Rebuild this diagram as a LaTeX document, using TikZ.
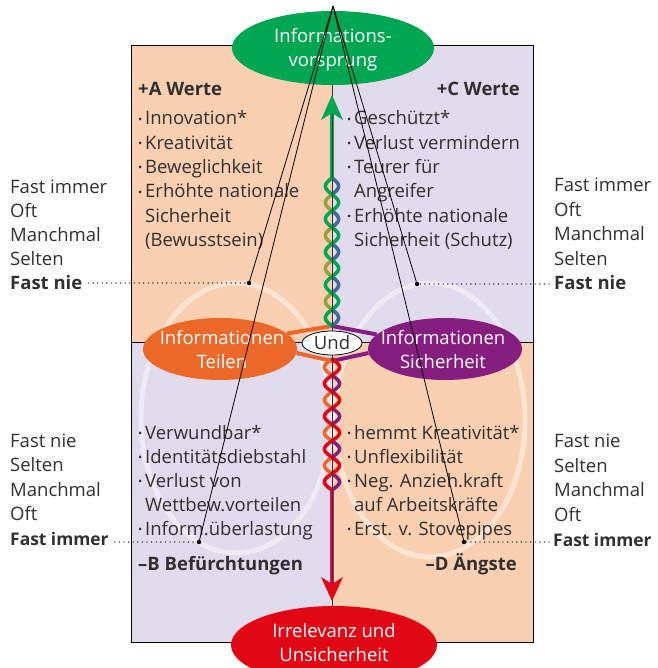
\documentclass[tikz,border=0pt]{standalone}
\usepackage{fontspec}
\usepackage{graphicx}
\setmainfont{Open Sans}
\usetikzlibrary{shapes.geometric}

\definecolor{peach}{RGB}{249,207,177}
\definecolor{lavend}{RGB}{224,218,236}
\definecolor{igreen}{RGB}{0,166,81}
\definecolor{iorange}{RGB}{236,104,40}
\definecolor{ipurple}{RGB}{134,30,128}
\definecolor{ired}{RGB}{226,7,20}
\definecolor{icrimson}{RGB}{196,24,86}
\definecolor{solive}{RGB}{150,160,60}
\definecolor{sblue}{RGB}{65,105,150}
\definecolor{txt}{RGB}{48,48,48}

\newcommand\dfont{\fontsize{18.5}{24}\selectfont}
\newcommand\sfont{\fontsize{17.4}{24}\selectfont}
\newcommand\bul{\makebox[7pt][l]{\raisebox{0.1em}{\scalebox{0.6}{•}}}}
\newcommand\bulind{\hspace*{7pt}}

\pgfdeclarelayer{back}
\pgfdeclarelayer{mid}
\pgfsetlayers{back,mid,main}

\begin{document}
\begin{tikzpicture}[x=1pt,y=-1pt,
  ell/.style={shape=ellipse, inner sep=0pt},
  etxt/.style={font=\dfont, text=white, align=center, inner sep=0pt},
  lbl/.style={font=\dfont, text=txt, inner sep=0pt, anchor=base west},
  lblb/.style={lbl, font=\dfont\bfseries},
  lblbs/.style={lbl, font=\sfont\bfseries},
  btxt/.style={font=\dfont, text=txt, inner sep=0pt, anchor=base west},
  head/.style={font=\dfont\bfseries, text=txt, inner sep=0pt},
  strand/.style={line width=3.6pt, line cap=round},
  link/.style={line width=4pt},
  dotline/.style={line width=1.4pt, line cap=round, dash pattern=on 0pt off 4.6pt},
  guide/.style={line width=0.8pt, black},
  loopring/.style={draw=white, opacity=0.45, line width=5pt}]

\useasboundingbox (0,0) rectangle (657,668);

% ---------- quadrants and cycle rings ----------
\begin{pgfonlayer}{back}
  \fill[peach]  (131,45)  rectangle (332,342);
  \fill[lavend] (332,45)  rectangle (533,342);
  \fill[lavend] (131,342) rectangle (332,642);
  \fill[peach]  (332,342) rectangle (533,642);
  \draw[loopring] (236,418) ellipse [x radius=95pt, y radius=135pt];
  \draw[loopring] (430,420) ellipse [x radius=95pt, y radius=137pt];
  \draw[line width=0.9pt, black] (131,45) rectangle (533,642);
  \draw[line width=0.9pt, black] (131,342) -- (533,342);
\end{pgfonlayer}

% ---------- ellipse nodes ----------
\node[ell, fill=igreen, minimum width=202pt, minimum height=74pt] (vor) at (333,48) {};
\node[etxt] (vorT) at (333,50) {Informations-\\vorsprung};

\node[ell, fill=ired, minimum width=206pt, minimum height=78pt] (irr) at (334,645) {};
\node[etxt] (irrT) at (334,643) {Irrelevanz und\\Unsicherheit};

\node[ell, fill=iorange, minimum width=154pt, minimum height=62pt] (teilen) at (220,349) {};
\node[etxt] (teilenT) at (222,350) {Informationen\\Teilen};

\node[ell, fill=ipurple, minimum width=154pt, minimum height=62pt] (sich) at (445,349) {};
\node[etxt] (sichT) at (443,350) {Informationen\\Sicherheit};

\node[ell, draw=black, fill=white, line width=0.8pt, minimum width=60pt,
      minimum height=24pt, font=\dfont, text=txt] (und) at (332,343) {Und};

% ---------- strands, helices and arrows ----------
\coordinate (ht) at (332,326);
\coordinate (hb) at (332,361);
\begin{pgfonlayer}{mid}
  % connectors from the two ellipses into the strands
  \draw[link, iorange] (teilen.13) -- (ht);
  \draw[link, iorange] (teilen.-3) -- (hb);
  \draw[link, ipurple] (sich.168) -- (ht);
  \draw[link, ipurple] (sich.183) -- (hb);

  % upper helix
  \begin{scope}
    \clip (250,150) rectangle (332,340);
    \draw[strand, solive] plot[domain=178:326, samples=150, smooth]
      ({332-6.6*sin(10.942*(\x-326))},\x);
  \end{scope}
  \begin{scope}
    \clip (332,150) rectangle (420,340);
    \draw[strand, sblue] plot[domain=178:326, samples=150, smooth]
      ({332-6.6*sin(10.942*(\x-326))},\x);
  \end{scope}
  \draw[strand, igreen] plot[domain=178:326, samples=150, smooth]
    ({332+6.6*sin(10.942*(\x-326))},\x);
  \draw[igreen, line width=4.5pt] (332,180) -- (332,112);

  % lower helix
  \begin{scope}
    \clip (250,350) rectangle (332,500);
    \draw[strand, iorange] plot[domain=359:490, samples=150, smooth]
      ({332-7.5*sin(10.992*(\x-359))},\x);
  \end{scope}
  \begin{scope}
    \clip (332,350) rectangle (420,500);
    \draw[strand, ipurple] plot[domain=359:490, samples=150, smooth]
      ({332-7.5*sin(10.992*(\x-359))},\x);
  \end{scope}
  \draw[strand, ired] plot[domain=359:490, samples=150, smooth]
    ({332+7.5*sin(10.992*(\x-359))},\x);
  \draw[icrimson, line width=4.5pt] (332,488) -- (332,585);

  % quadrant divider
  \draw[line width=0.8pt, black!80] (332,45) -- (332,642);

  % arrow heads
  \fill[igreen] (332,95) -- (321,120) -- (332,113) -- (343,120) -- cycle;
  \fill[ired] (332,601) -- (321,577) -- (332,584) -- (343,577) -- cycle;
\end{pgfonlayer}

% ---------- quadrant texts ----------
\node[head, anchor=base west] (hA) at (138,96) {+A Werte};
\foreach \t [count=\i from 0] in {{\bul Innovation*},{\bul Kreativität},{\bul Beweglichkeit},
   {\bul Erhöhte nationale},{\bulind Sicherheit},{\bulind (Bewusstsein)}}
  \node[btxt, name=tA\i] at (138,{125+24.3*\i}) {\t};

\node[head, anchor=base east] (hC) at (520,96) {+C Werte};
\foreach \t [count=\i from 0] in {{\bul Geschützt*},{\bul Verlust vermindern},{\bul Teurer für},
   {\bulind Angreifer},{\bul Erhöhte nationale},{\bulind Sicherheit (Schutz)}}
  \node[btxt, name=tC\i] at (347,{125+24.3*\i}) {\t};

\foreach \t [count=\i from 0] in {{\bul Verwundbar*},{\bul Identitätsdiebstahl},{\bul Verlust von},
   {\bulind Wettbew.vorteilen},{\bul Inform.überlastung}}
  \node[btxt, name=tB\i] at (138,{439+24.1*\i}) {\t};
\node[head, anchor=base west] (hB) at (138,570) {–B Befürchtungen};

\foreach \t [count=\i from 0] in {{\bul hemmt Kreativität*},{\bul Unflexibilität},{\bul Neg. Anzieh.kraft},
   {\bulind auf Arbeitskräfte},{\bul Erst. v. Stovepipes}}
  \node[btxt, name=tD\i] at (347,{439+24.1*\i}) {\t};
\node[head, anchor=base east] (hD) at (517,570) {–D Ängste};

% ---------- frequency scales ----------
\foreach \t [count=\i from 0] in {Fast immer,Oft,Manchmal,Selten}
  \node[lbl, name=sLT\i] at (10,{193.5+24*\i}) {\t};
\node[lblb] (fnL) at (10,289.5) {Fast nie};

\foreach \t [count=\i from 0] in {Fast immer,Oft,Manchmal,Selten}
  \node[lbl, name=sRT\i] at (554,{191.5+24.5*\i}) {\t};
\node[lblb] (fnR) at (554,289.5) {Fast nie};

\foreach \t [count=\i from 0] in {Fast nie,Selten,Manchmal,Oft}
  \node[lbl, name=sLB\i] at (10,{447.5+24.4*\i}) {\t};
\node[lblbs] (fiL) at (10,545) {Fast immer};

\foreach \t [count=\i from 0] in {Fast nie,Selten,Manchmal,Oft}
  \node[lbl, name=sRB\i] at (554,{447.5+24.7*\i}) {\t};
\node[lblbs] (fiR) at (553,546.5) {Fast immer};

% ---------- guide lines from the apex ----------
\coordinate (apex) at (333,6);
\coordinate (d1) at (249,283);
\coordinate (d2) at (417,284);
\coordinate (d3) at (199,542);
\coordinate (d4) at (464,542);
\draw[guide] (apex) -- (d1);
\draw[guide] (apex) -- (d3);
\draw[guide] (apex) -- (d2);
\draw[guide] (apex) -- (d4);
\foreach \d in {d1,d2,d3,d4} \fill[black] (\d) circle[radius=2.2pt];

\draw[dotline] (fnL.east |- d1) ++(6,0) -- (d1);
\draw[dotline] (fiL.east |- d3) ++(6,0) -- (d3);
\draw[dotline] (fnR.west |- d2) ++(-5,0) -- (d2);
\draw[dotline] (fiR.west |- d4) ++(-4,0) -- (d4);

\end{tikzpicture}
\end{document}
